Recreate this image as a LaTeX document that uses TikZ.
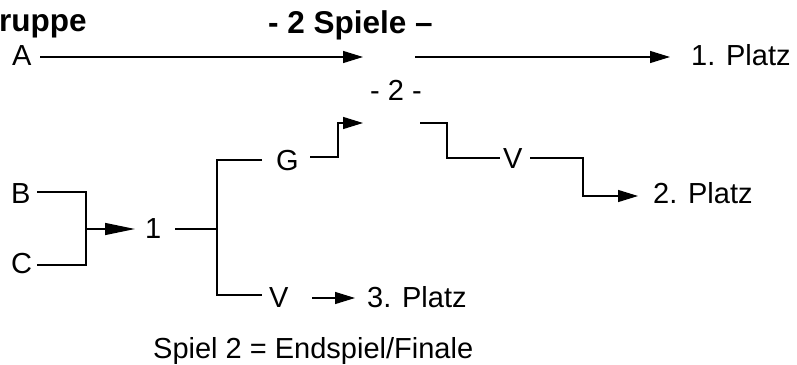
\documentclass[tikz,border=0pt]{standalone}
\usepackage{fontspec}
\setmainfont{Liberation Sans}
\usetikzlibrary{arrows.meta}
\begin{document}
\begin{tikzpicture}[x=1pt,y=-1pt,
  lbl/.style={inner sep=0pt,anchor=base west,font=\fontsize{29}{33}\selectfont},
  ttl/.style={inner sep=0pt,anchor=base west,font=\fontsize{31.5}{35}\selectfont\bfseries},
  ln/.style={line width=1.3pt,line join=miter},
  arr/.style={ln,-{Triangle[length=20pt,width=12pt]}},
  arrl/.style={ln,-{Triangle[length=30pt,width=12pt]}}]
\useasboundingbox (0,0) rectangle (797,364);
% texts
\node[ttl] (grp) at (-1,31) {ruppe};
\node[ttl] (spiele) at (268,33) {- 2 Spiele –};
\node[lbl] (A) at (12,65) {A};
\node[lbl] (p1) at (691,65) {1. Platz};
\node[lbl] (g2) at (370,100) {- 2 -};
\node[lbl] (G) at (276,170) {G};
\node[lbl] (V2) at (503,168) {V};
\node[lbl] (p2) at (653,203) {2. Platz};
\node[lbl] (B) at (11,203) {B};
\node[lbl] (C) at (11,273) {C};
\node[lbl] (g1) at (145,238) {1};
\node[lbl] (V1) at (269,307) {V};
\node[lbl] (p3) at (367,307) {3. Platz};
\node[lbl] (note) at (153,358) {Spiel 2 = Endspiel/Finale};
% coordinates
\coordinate (a0) at (40,57);
\coordinate (a1) at (363,57);
\coordinate (f0) at (415,57);
\coordinate (f1) at (670,57);
\coordinate (g0) at (310,157);
\coordinate (g1e) at (363,123);
\coordinate (s0) at (420,123);
\coordinate (v0) at (500,158);
\coordinate (v1) at (530,158);
\coordinate (v2) at (638,196);
\coordinate (b0) at (37,192);
\coordinate (c0) at (37,265);
\coordinate (m0) at (86,229);
\coordinate (m1) at (135,229);
\coordinate (o0) at (175,229);
\coordinate (k) at (217,229);
\coordinate (gt) at (262,160);
\coordinate (vb) at (262,295);
\coordinate (w0) at (312,298);
\coordinate (w1) at (355,298);
% connectors
\draw[arr] (a0) -- (a1);
\draw[arr] (f0) -- (f1);
\draw[arr] (g0) -- (338,157) -- (338,123) -- (g1e);
\draw[ln] (s0) -- (447,123) -- (447,158) -- (v0);
\draw[arr] (v1) -- (583,158) -- (583,196) -- (v2);
\draw[ln] (b0) -- (86,192) -- (86,265) -- (c0);
\draw[arrl] (m0) -- (m1);
\draw[ln] (o0) -- (k);
\draw[ln] (gt) -- (217,160) -- (217,295) -- (vb);
\draw[arr] (w0) -- (w1);
\end{tikzpicture}
\end{document}
